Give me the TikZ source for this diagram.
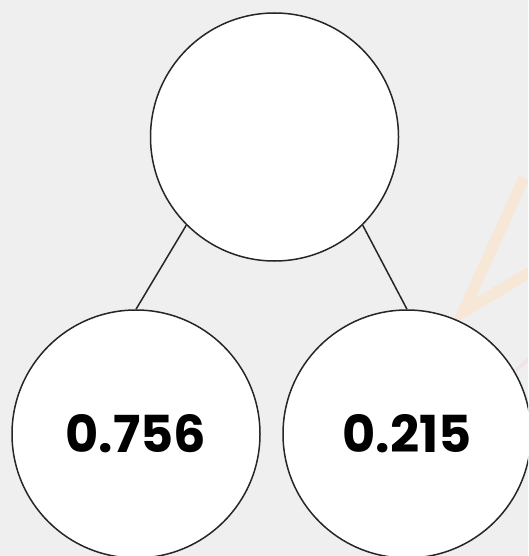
\documentclass[tikz,border=0pt]{standalone}
\usepackage{fontspec}
\setmainfont{Poppins}
\usepackage{tikz}
\usetikzlibrary{positioning}
\definecolor{backdrop}{RGB}{239,239,239}
\definecolor{peach}{RGB}{246,231,214}
\definecolor{blush}{RGB}{243,226,228}

\begin{document}
\begin{tikzpicture}[x=1pt,y=-1pt,
    ball/.style={circle,draw=black!85,fill=white,line width=1.5pt,minimum size=248pt,inner sep=0pt,
      font=\fontsize{51}{60}\selectfont\bfseries},
    twig/.style={draw=black!85,line width=1.5pt}]
        % Backdrop
        \fill[backdrop] (0,0) rectangle (528,556);
        \useasboundingbox (0,0) rectangle (528,556);
        \clip (0,0) rectangle (528,556);
        % Faint watermark
        \draw[peach,line width=11pt] (524,178) -- (463,312) -- (530,272);
        \draw[blush,line width=3pt] (516,370) -- (530,358);

        % Circles
        \node[ball] (root) at (274.5,137) {};
        \node[ball] (left) at (136,434) {0.756};
        \node[ball] (right) at (407,434) {0.215};

        % Branches
        \draw[twig] (root.225) -- (left.north);
        \draw[twig] (root.-45) -- (right.north);
    \end{tikzpicture}
\end{document}
